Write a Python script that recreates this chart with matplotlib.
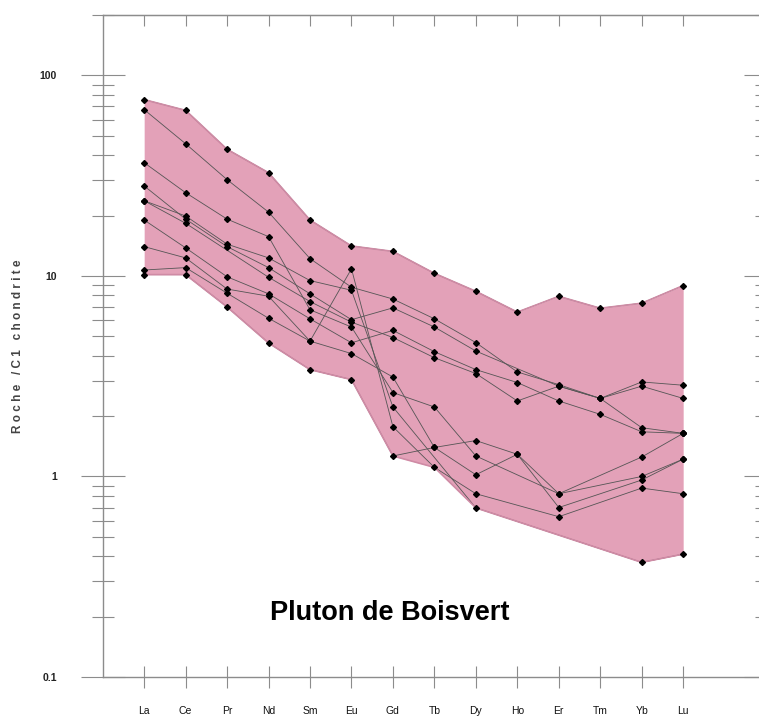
import numpy as np
import matplotlib.pyplot as plt
from matplotlib.ticker import FixedLocator, LogLocator, NullFormatter

plt.rcParams['font.family'] = ['Liberation Sans', 'DejaVu Sans']

# Terres rares normalisées à la chondrite C1 (nan = non analysé)
elements = ['La', 'Ce', 'Pr', 'Nd', 'Sm', 'Eu', 'Gd', 'Tb', 'Dy', 'Ho', 'Er', 'Tm', 'Yb', 'Lu']
nan = np.nan
ech_01 = [75.7, 66.9, 42.8, 32.7, 19.0, 14.1, 13.25, 10.3, 8.38, 6.60, 7.91, 6.90, 7.31, 8.95]
ech_02 = [67.5, 45.6, 30.2, 20.8, 12.2, 8.78, 7.67, 6.11, 4.65, 3.32, 2.87, 2.45, 2.96, 2.85]
ech_03 = [36.7, 26.0, 19.2, 15.7, 6.78, 5.56, 2.62, 2.22, 1.265, nan, 0.82, nan, 1.00, 1.22]
ech_04 = [28.1, 19.2, 14.0, 11.0, 8.14, 6.05, 6.93, 5.56, 4.22, nan, 2.82, 2.45, 2.82, 2.45]
ech_05 = [23.7, 19.9, 14.4, 12.3, 9.48, 8.48, 2.22, nan, 0.697, nan, nan, nan, 0.373, 0.41]
ech_06 = [23.7, 18.3, nan, 9.85, 7.45, 5.88, 4.93, 3.91, 3.26, 2.38, 2.82, 2.45, 1.75, 1.64]
ech_07 = [19.0, 13.8, 9.9, 8.14, 6.11, 4.64, 5.35, 4.19, 3.41, 2.94, 2.38, 2.04, 1.67, 1.64]
ech_08 = [14.0, 12.3, 8.6, 7.92, 4.73, 10.85, 1.77, 1.11, 0.82, nan, 0.63, nan, 0.875, 0.82]
ech_09 = [10.7, 11.0, 8.2, 6.15, 4.73, 4.10, 3.13, 1.395, 1.51, 1.29, 0.82, nan, 1.25, 1.64]
ech_10 = [10.15, 10.15, 7.0, 4.63, 3.41, 3.04, 1.265, 1.395, 1.02, 1.29, 0.70, nan, 0.96, 1.22]
echantillons = [ech_01, ech_02, ech_03, ech_04, ech_05, ech_06, ech_07, ech_08, ech_09, ech_10]

titre = 'Pluton de Boisvert'
x = np.arange(1, len(elements) + 1)
data = np.array(echantillons, dtype=float)

# enveloppe : on interpole (en log) les éléments manquants, puis min / max
logs = []
for row in np.log10(data):
    ok = ~np.isnan(row)
    logs.append(np.interp(x, x[ok], row[ok]))
logs = np.array(logs)
bas = 10 ** logs.min(axis=0)
haut = 10 ** logs.max(axis=0)

fig = plt.figure(figsize=(7.59, 7.19), dpi=100)
# l'axe de droite tombe juste hors de l'image, comme sur l'original
ax = fig.add_axes([102.7 / 759, 42 / 719, 663.4 / 759, 662 / 719])

ax.fill_between(x, bas, haut, color='#e3a1b8', lw=0, zorder=1)

for row in data:
    ok = ~np.isnan(row)
    ax.plot(x[ok], row[ok], color='#555555', lw=0.6, zorder=2)

# bord de l'enveloppe par-dessus les lignes
ax.plot(x, bas, color='#cf8ba5', lw=1.2, zorder=3)
ax.plot(x, haut, color='#cf8ba5', lw=1.2, zorder=3)

for row in data:
    ok = ~np.isnan(row)
    ax.plot(x[ok], row[ok], ls='none', marker='D', ms=3, mfc='black', mec='black', zorder=4)

ax.set_yscale('log')
ax.set_ylim(0.1, 200)
ax.set_xlim(0, 16)
ax.set_xticks(x, elements)
ax.yaxis.set_major_locator(FixedLocator([0.1, 1, 10, 100]))
ax.set_yticklabels(['0.1', '1', '10', '100'])
ax.yaxis.set_minor_locator(LogLocator(base=10, subs=np.arange(2, 10)))
ax.yaxis.set_minor_formatter(NullFormatter())

gris = '#8c8c8c'
ax.tick_params(axis='y', which='major', direction='inout', length=31.7, width=0.8,
               color=gris, left=True, right=True, pad=17, labelsize=7.5, labelcolor='#222222')
ax.tick_params(axis='y', which='minor', direction='inout', length=15.8, width=0.8,
               color=gris, left=True, right=True)
ax.tick_params(axis='x', direction='inout', length=16, width=0.8, color=gris,
               pad=13, labelsize=7.5, labelcolor='#111111')
for lab in ax.get_yticklabels():
    lab.set_fontweight('bold')
for sp in ax.spines.values():
    sp.set_color(gris)
    sp.set_linewidth(1.0)

# petits tirets vers l'intérieur en haut
haut_ax = ax.secondary_xaxis('top')
haut_ax.set_xticks(x)
haut_ax.tick_params(direction='in', length=8, width=0.8, color=gris, labeltop=False)
haut_ax.spines['top'].set_color(gris)

fig.text(18 / 759, 1 - 346 / 719, 'R o c h e   / C 1   c h o n d r i t e',
         rotation=90, ha='center', va='center', fontsize=8.5, fontweight='bold', color='#444444')

ax.text(6.92, 0.2085, titre, ha='center', va='center', fontsize=19.5, fontweight='bold')

fig.savefig('out.png', dpi=100)
